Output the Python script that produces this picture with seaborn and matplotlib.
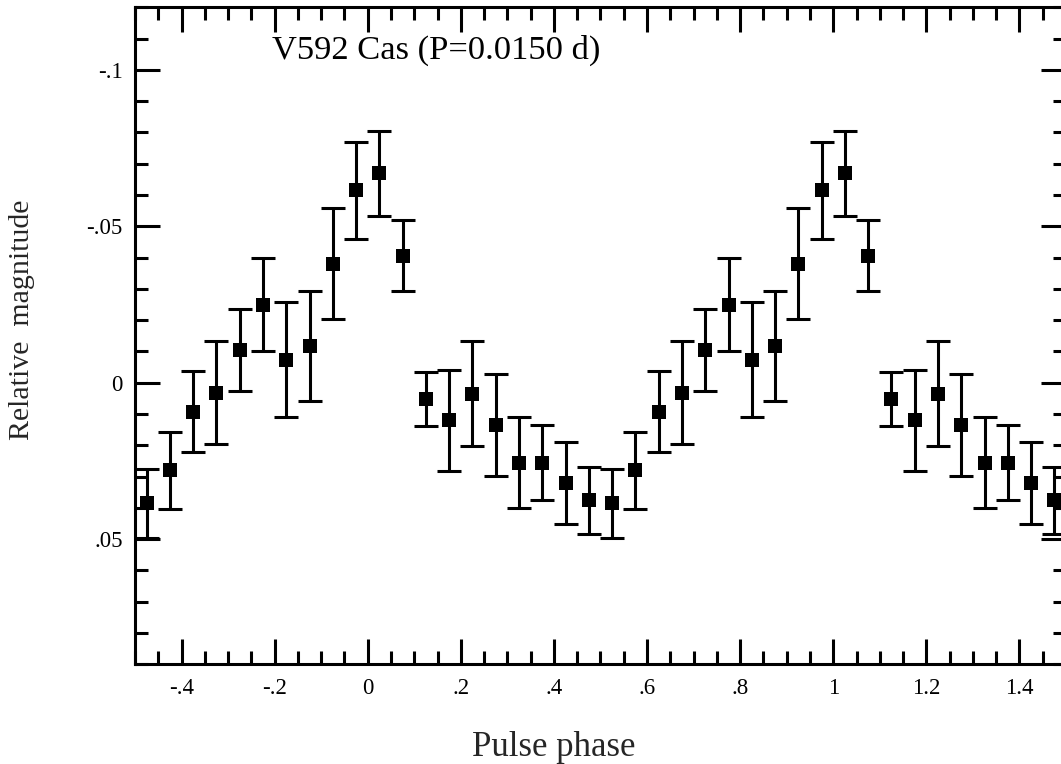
import numpy as np
import pandas as pd
import matplotlib
matplotlib.use("Agg")
import matplotlib.pyplot as plt
import seaborn as sns
from matplotlib.ticker import MultipleLocator, FixedLocator, FixedFormatter

# ---- data ----
phase = [-0.475, -0.425, -0.375, -0.325, -0.275, -0.225, -0.175, -0.125, -0.075, -0.025,
         0.025, 0.075, 0.125, 0.175, 0.225, 0.275, 0.325, 0.375, 0.425, 0.475,
         0.525, 0.575, 0.625, 0.675, 0.725, 0.775, 0.825, 0.875, 0.925, 0.975,
         1.025, 1.075, 1.125, 1.175, 1.225, 1.275, 1.325, 1.375, 1.425, 1.475]
mag = [0.0386, 0.0280, 0.0092, 0.0032, -0.0105, -0.0250, -0.0073, -0.0118, -0.0380, -0.0616,
       -0.0670, -0.0406, 0.0051, 0.0120, 0.0035, 0.0134, 0.0255, 0.0255, 0.0322, 0.0376,
       0.0386, 0.0280, 0.0092, 0.0032, -0.0105, -0.0250, -0.0073, -0.0118, -0.0380, -0.0616,
       -0.0670, -0.0406, 0.0051, 0.0120, 0.0035, 0.0134, 0.0255, 0.0255, 0.0322, 0.0376]
err = [0.0109, 0.0123, 0.0131, 0.0165, 0.0132, 0.0149, 0.0184, 0.0175, 0.0177, 0.0155,
       0.0136, 0.0113, 0.0086, 0.0161, 0.0167, 0.0163, 0.0145, 0.0120, 0.0131, 0.0106,
       0.0109, 0.0123, 0.0131, 0.0165, 0.0132, 0.0149, 0.0184, 0.0175, 0.0177, 0.0155,
       0.0136, 0.0113, 0.0086, 0.0161, 0.0167, 0.0163, 0.0145, 0.0120, 0.0131, 0.0106]

xtick_vals = [-0.4, -0.2, 0, 0.2, 0.4, 0.6, 0.8, 1.0, 1.2, 1.4]
xtick_labels = ["-.4", "-.2", "0", ".2", ".4", ".6", ".8", "1", "1.2", "1.4"]
ytick_vals = [-0.1, -0.05, 0, 0.05]
ytick_labels = ["-.1", "-.05", "0", ".05"]

title_text = "V592 Cas (P=0.0150 d)"
xlabel = "Pulse phase"
ylabel = "Relative  magnitude"

df = pd.DataFrame({"phase": phase, "mag": mag, "err": err})

sns.set_theme(style="ticks")
plt.rcParams["font.family"] = ["Liberation Serif", "DejaVu Serif"]

fig = plt.figure(figsize=(10.61, 7.64), dpi=100)
ax = fig.add_axes([135 / 1061, 99.7 / 764, 931 / 1061, 657 / 764])

ax.errorbar(df["phase"], df["mag"], yerr=df["err"], fmt="none", ecolor="black",
            elinewidth=2.2, capsize=8.5, capthick=2.2, zorder=2)
sns.scatterplot(data=df, x="phase", y="mag", marker="s", s=105, color="black",
                edgecolor="black", linewidth=0, ax=ax, zorder=3)

ax.set_xlim(-0.5, 1.5)
ax.set_ylim(0.09, -0.12)

ax.xaxis.set_major_locator(FixedLocator(xtick_vals))
ax.xaxis.set_major_formatter(FixedFormatter(xtick_labels))
ax.xaxis.set_minor_locator(MultipleLocator(0.05))
ax.yaxis.set_major_locator(FixedLocator(ytick_vals))
ax.yaxis.set_major_formatter(FixedFormatter(ytick_labels))
ax.yaxis.set_minor_locator(MultipleLocator(0.01))

ax.tick_params(which="both", direction="in", top=True, right=True, colors="black",
               width=2.2)
ax.tick_params(which="major", length=18, labelsize=16.5)
ax.tick_params(axis="x", which="major", pad=10)
ax.tick_params(axis="y", which="major", pad=9)
ax.tick_params(which="minor", length=9.5)

for sp in ax.spines.values():
    sp.set_linewidth(2.2)
    sp.set_color("black")

ax.set_xlabel(xlabel, fontsize=25)
ax.set_ylabel(ylabel, fontsize=21.5)
ax.xaxis.set_label_coords(0.45, -0.126)
ax.yaxis.set_label_coords(-0.121, 0.524)
ax.xaxis.label.set_va("center")
ax.yaxis.label.set_va("center")

ax.text(0.147, 0.935, title_text, transform=ax.transAxes, fontsize=24.8,
        ha="left", va="center", color="black")

fig.savefig("out.png", dpi=100, facecolor="white")
